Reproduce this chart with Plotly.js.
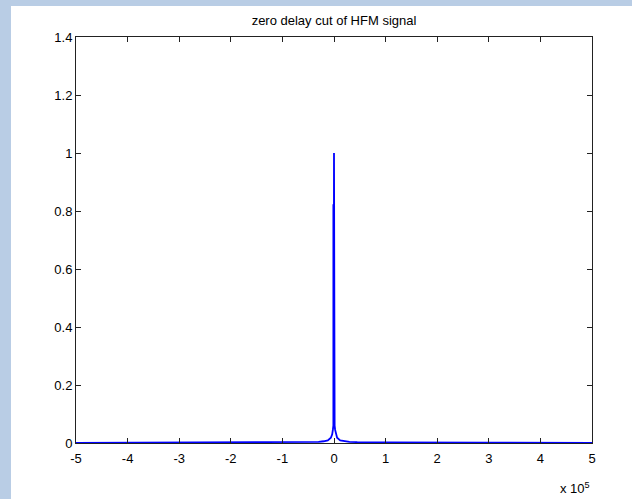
<!DOCTYPE html>
<html>
<head>
<meta charset="utf-8">
<script src="https://cdn.plot.ly/plotly-3.0.1.min.js"></script>
<style>
html, body { margin: 0; padding: 0; background: #b9cde5; width: 632px; height: 499px; overflow: hidden; }
#chart { position: absolute; left: 11px; top: 6px; width: 621px; height: 493px; background: #ffffff; }
</style>
</head>
<body>
<div id="chart"></div>
<script>
// zero delay cut of HFM signal (frequency offset in Hz, normalized magnitude)
const freqHz = [-500000, -300000, -100000, -45000, -30000, -20000, -12000, -6000, -3500, -2200, -1200, -1200, -100, 0, 100, 1200, 1200, 2200, 3500, 6000, 12000, 20000, 30000, 45000, 100000, 300000, 500000];
const magnitude = [0.0, 0.001, 0.002, 0.003, 0.004, 0.006, 0.009, 0.018, 0.03, 0.045, 0.06, 0.82, 0.82, 1.0, 0.82, 0.82, 0.06, 0.045, 0.03, 0.018, 0.009, 0.006, 0.004, 0.003, 0.002, 0.001, 0.0];
const xTickVals = [-500000, -400000, -300000, -200000, -100000, 0, 100000, 200000, 300000, 400000, 500000];
const xTickText = ["-5", "-4", "-3", "-2", "-1", "0", "1", "2", "3", "4", "5"];
const yTickVals = [0, 0.2, 0.4, 0.6, 0.8, 1, 1.2, 1.4];
const yTickText = ["0", "0.2", "0.4", "0.6", "0.8", "1", "1.2", "1.4"];

const font = { family: "Liberation Sans, Arial, sans-serif", size: 13, color: "#000000" };

const trace = {
  x: freqHz,
  y: magnitude,
  type: "scatter",
  mode: "lines",
  line: { color: "#0000ff", width: 1.8 },
  hoverinfo: "skip"
};

const axisCommon = {
  showgrid: false,
  zeroline: false,
  showline: true,
  linecolor: "#222222",
  linewidth: 1,
  mirror: "ticks",
  ticks: "inside",
  ticklen: 5,
  tickwidth: 1,
  tickcolor: "#222222",
  tickfont: font
};

const layout = {
  width: 621,
  height: 493,
  margin: { l: 65, r: 40, t: 31, b: 56 },
  paper_bgcolor: "#ffffff",
  plot_bgcolor: "#ffffff",
  font: font,
  showlegend: false,
  title: { text: "zero delay cut of HFM signal", font: font, x: 0.5, xref: "paper", xanchor: "center", y: 0.97, yref: "container", yanchor: "middle" },
  xaxis: Object.assign({}, axisCommon, {
    range: [-500000, 500000],
    tickmode: "array",
    tickvals: xTickVals,
    ticktext: xTickText,
    ticklabelstandoff: 3
  }),
  yaxis: Object.assign({}, axisCommon, {
    range: [0, 1.4],
    tickmode: "array",
    tickvals: yTickVals,
    ticktext: yTickText
  }),
  annotations: [{
    text: "x 10<sup>5</sup>",
    xref: "paper", yref: "paper",
    x: 1.0, y: -0.11,
    xanchor: "right", yanchor: "middle",
    showarrow: false,
    font: font
  }]
};

Plotly.newPlot("chart", [trace], layout, { displayModeBar: false, staticPlot: true });
</script>
</body>
</html>
